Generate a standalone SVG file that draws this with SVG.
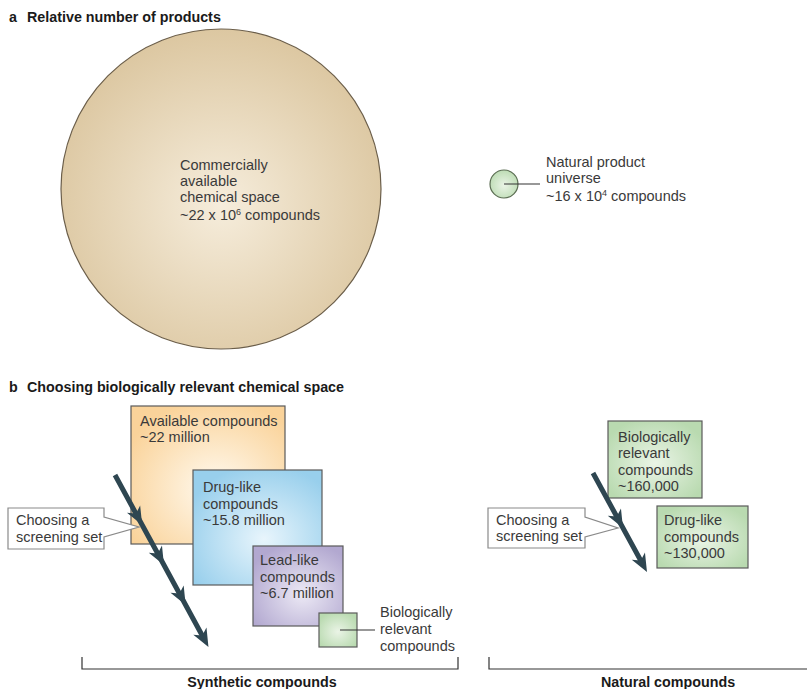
<svg xmlns="http://www.w3.org/2000/svg" width="807" height="689" viewBox="0 0 807 689">
<style>
.t{font-family:"Liberation Sans",Arial,sans-serif;font-size:14.5px;fill:#3a3a3a}
.h{font-family:"Liberation Sans",Arial,sans-serif;font-size:14.3px;font-weight:bold;fill:#1a1a1a}
.sup{font-size:9px}
.box{stroke:#5a5a5a;stroke-width:1.2}
.co{fill:#fff;stroke:#8a8a8a;stroke-width:1.2}
.ln{fill:none;stroke:#333;stroke-width:1.2}
.arr{fill:none;stroke:#2e4651;stroke-width:5;marker-mid:url(#hd);marker-end:url(#hd)}
</style>
<defs>
<radialGradient id="gBig" cx="0.5" cy="0.55" r="0.55"><stop offset="0" stop-color="#f6eddc"/><stop offset="1" stop-color="#dcc7a1"/></radialGradient>
<radialGradient id="gGreen" cx="0.5" cy="0.55" r="0.6"><stop offset="0" stop-color="#eaf4e6"/><stop offset="1" stop-color="#b9dab0"/></radialGradient>
<radialGradient id="gOr" cx="0.55" cy="0.6" r="0.65"><stop offset="0" stop-color="#fffaf0"/><stop offset="1" stop-color="#fad39a"/></radialGradient>
<radialGradient id="gBl" cx="0.55" cy="0.6" r="0.65"><stop offset="0" stop-color="#e8f5fc"/><stop offset="1" stop-color="#98cfec"/></radialGradient>
<radialGradient id="gPu" cx="0.55" cy="0.6" r="0.65"><stop offset="0" stop-color="#ece9f5"/><stop offset="1" stop-color="#b2a8d0"/></radialGradient>
<marker id="hd" markerUnits="userSpaceOnUse" markerWidth="1" markerHeight="1" refX="0" refY="0" orient="auto" overflow="visible">
<path d="M10,0 L-8,-7.5 L-3,0 L-8,7.5 Z" fill="#2e4651"/>
</marker>
</defs>

<text class="h" x="9" y="22">a<tspan x="27">Relative number of products</tspan></text>
<text class="h" x="9" y="392">b<tspan x="27">Choosing biologically relevant chemical space</tspan></text>

<g id="commercial">
<circle cx="221" cy="189" r="160" fill="url(#gBig)" stroke="#6b5e4a" stroke-width="1.2"/>
<text class="t" x="180" y="170">Commercially</text>
<text class="t" x="180" y="186">available</text>
<text class="t" x="180" y="202">chemical space</text>
<text class="t" x="180" y="220">~22 x 10<tspan class="sup" dy="-5">6</tspan><tspan dy="5"> compounds</tspan></text>
</g>

<g id="natural-universe">
<circle cx="504" cy="184" r="14" fill="url(#gGreen)" stroke="#5b6d53" stroke-width="1.2"/>
<line x1="504" y1="184" x2="540" y2="184" class="ln"/>
<text class="t" x="546" y="167">Natural product</text>
<text class="t" x="546" y="183">universe</text>
<text class="t" x="546" y="201">~16 x 10<tspan class="sup" dy="-5">4</tspan><tspan dy="5"> compounds</tspan></text>
</g>

<g id="available">
<rect class="box" x="131" y="406" width="154" height="138" fill="url(#gOr)"/>
<text class="t" x="140" y="426">Available compounds</text>
<text class="t" x="140" y="442">~22 million</text>
</g>

<g id="druglike-syn">
<rect class="box" x="193" y="470" width="129" height="115" fill="url(#gBl)"/>
<text class="t" x="203" y="492">Drug-like</text>
<text class="t" x="203" y="509">compounds</text>
<text class="t" x="203" y="525">~15.8 million</text>
</g>

<g id="leadlike">
<rect class="box" x="253" y="546" width="90" height="80" fill="url(#gPu)"/>
<text class="t" x="260" y="565">Lead-like</text>
<text class="t" x="260" y="582">compounds</text>
<text class="t" x="260" y="598">~6.7 million</text>
</g>

<g id="bio-syn">
<rect class="box" x="319" y="613" width="38" height="34" fill="url(#gGreen)"/>
<line x1="340" y1="630" x2="375" y2="630" class="ln"/>
<text class="t" x="380" y="617">Biologically</text>
<text class="t" x="380" y="634">relevant</text>
<text class="t" x="380" y="651">compounds</text>
</g>

<g id="bio-nat">
<rect class="box" x="608" y="421" width="94" height="77" fill="url(#gGreen)"/>
<text class="t" x="618" y="442">Biologically</text>
<text class="t" x="618" y="458">relevant</text>
<text class="t" x="618" y="475">compounds</text>
<text class="t" x="618" y="491">~160,000</text>
</g>

<g id="druglike-nat">
<rect class="box" x="657" y="506" width="91" height="62" fill="url(#gGreen)"/>
<text class="t" x="664" y="525">Drug-like</text>
<text class="t" x="664" y="542">compounds</text>
<text class="t" x="664" y="558">~130,000</text>
</g>

<g id="connectors">
<polyline class="arr" points="115,475 137.4,516.2 159.2,556.2 180.9,596.2 203.7,638.2"/>
<polyline class="arr" points="593,473 618.2,519.2 642.2,563.2"/>
</g>

<g id="callout-syn">
<path class="co" d="M8,508 H104 V517 L139,527 L104,537 V549 H8 Z"/>
<text class="t" x="16" y="525">Choosing a</text>
<text class="t" x="16" y="542">screening set</text>
</g>

<g id="callout-nat">
<path class="co" d="M488,508 H585 V517 L618,528 L585,537 V548 H488 Z"/>
<text class="t" x="496" y="525">Choosing a</text>
<text class="t" x="496" y="541">screening set</text>
</g>

<g id="brackets">
<path class="ln" d="M82,657 V669 H458 V657"/>
<path class="ln" d="M489,657 V669 H807"/>
<text class="h" x="262" y="687" text-anchor="middle">Synthetic compounds</text>
<text class="h" x="668" y="687" text-anchor="middle">Natural compounds</text>
</g>
</svg>
